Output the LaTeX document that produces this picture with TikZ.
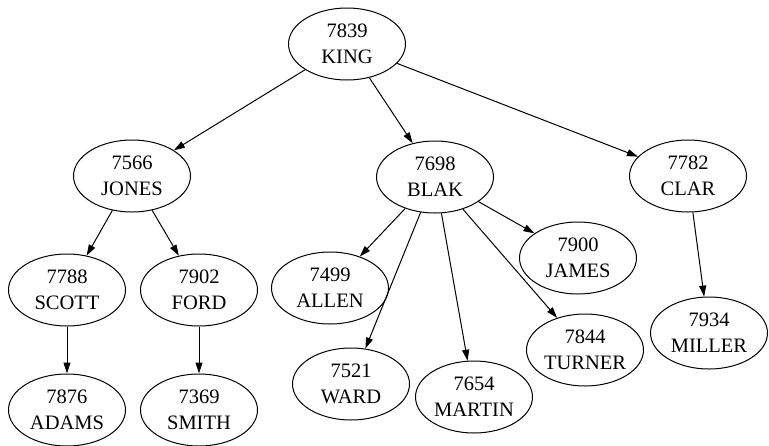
\documentclass[tikz,border=0pt]{standalone}
\usepackage{fontspec}
\setmainfont{Liberation Serif}
\usetikzlibrary{shapes.geometric,arrows.meta}
\begin{document}
\begin{tikzpicture}[x=1pt,y=-1pt,
  emp/.style={ellipse,draw,line width=1pt,minimum width=117pt,minimum height=72pt,inner sep=0pt,
    align=center,font=\fontsize{20.5}{26}\selectfont},
  link/.style={line width=1pt,-{Triangle[length=11pt,width=7pt]}}]
\path[use as bounding box] (0,0) rectangle (769,445);
\node[emp] (king)   at (347,44)  {7839\\KING};
\node[emp] (jones)  at (132,176) {7566\\JONES};
\node[emp] (blak)   at (435,177) {7698\\BLAK};
\node[emp] (clar)   at (688,176) {7782\\CLAR};
\node[emp] (scott)  at (67,290)  {7788\\SCOTT};
\node[emp] (ford)   at (199,290) {7902\\FORD};
\node[emp] (allen)  at (330,288) {7499\\ALLEN};
\node[emp] (james)  at (578,258) {7900\\JAMES};
\node[emp] (ward)   at (351,384) {7521\\WARD};
\node[emp] (martin) at (474,397) {7654\\MARTIN};
\node[emp] (turner) at (585,350) {7844\\TURNER};
\node[emp] (miller) at (709,333) {7934\\MILLER};
\node[emp] (adams)  at (67,410)  {7876\\ADAMS};
\node[emp] (smith)  at (199,410) {7369\\SMITH};
\draw[link] (king) -- (jones);
\draw[link] (king) -- (blak);
\draw[link] (king) -- (clar);
\draw[link] (jones) -- (scott);
\draw[link] (jones) -- (ford);
\draw[link] (blak) -- (allen);
\draw[link] (blak) -- (ward);
\draw[link] (blak) -- (martin);
\draw[link] (blak) -- (turner);
\draw[link] (blak) -- (james);
\draw[link] (clar) -- (miller);
\draw[link] (scott) -- (adams);
\draw[link] (ford) -- (smith);
\end{tikzpicture}
\end{document}
